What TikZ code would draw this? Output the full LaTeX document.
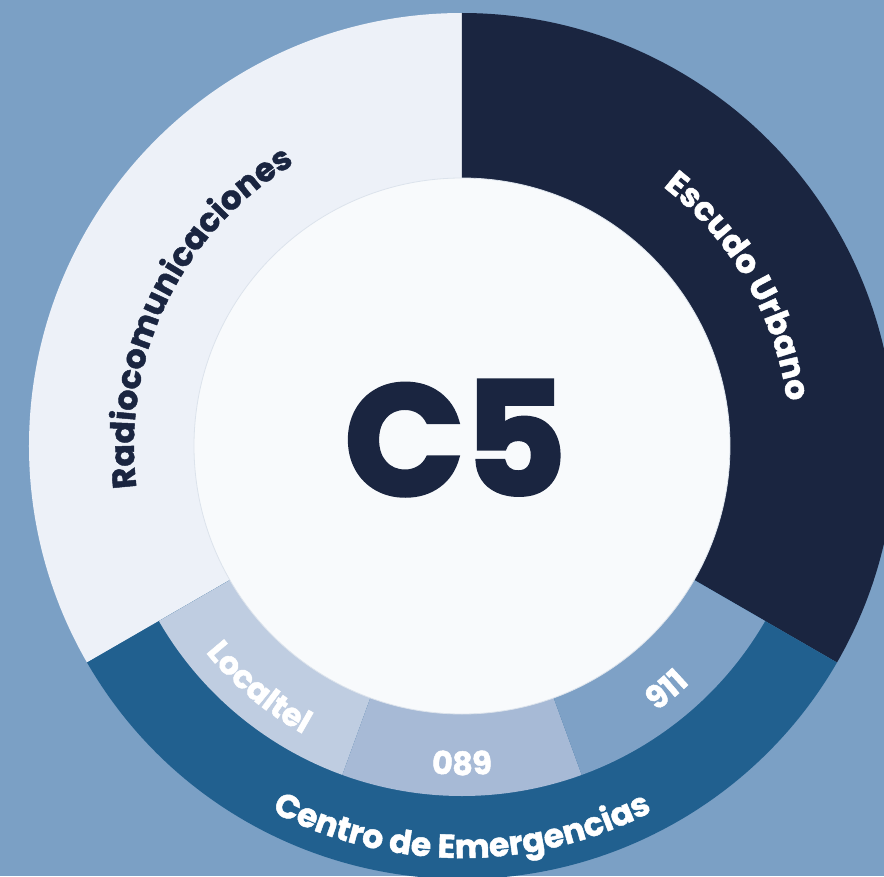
\documentclass[tikz,border=0pt]{standalone}
\usepackage{fontspec}
\setmainfont{Poppins}[BoldFeatures={FakeBold=1.4}]
\newfontfamily\titlefont{Poppins}[BoldFeatures={FakeBold=2.5}]
\usetikzlibrary{decorations.text}

\definecolor{bgblue}{HTML}{7BA0C5}
\definecolor{navy}{HTML}{1A2540}
\definecolor{radio}{HTML}{EDF1F8}
\definecolor{emerg}{HTML}{21608F}
\definecolor{localtel}{HTML}{BFCDE1}
\definecolor{line089}{HTML}{A7BAD6}
\definecolor{line911}{HTML}{7EA1C6}
\definecolor{core}{HTML}{F8FAFC}
\definecolor{coreline}{HTML}{DCE3EC}

\newcommand{\ringfont}{\fontsize{33}{33}\selectfont\bfseries}
\newcommand{\bandfont}{\fontsize{32}{32}\selectfont\bfseries}

\begin{document}
\begin{tikzpicture}[x=1pt, y=1pt,
    arclabel/.style={decorate, decoration={text along path, text align=center, text={#1}}}]
            % Background
            \clip (-462,-430) rectangle (422,446);
            \fill[bgblue] (-462,-430) rectangle (422,446);

            % Outer sectors
            \fill[radio] (0,0) -- (90:433pt) arc[start angle=90, end angle=210, radius=433pt] -- cycle;
            \fill[navy] (0,0) -- (-30:433pt) arc[start angle=-30, end angle=90, radius=433pt] -- cycle;
            \fill[emerg] (0,0) -- (210:433pt) arc[start angle=210, end angle=330, radius=433pt] -- cycle;

            % Emergency lines (inner band)
            \foreach \from/\to/\col/\lbl in {210/250/localtel/Localtel, 250/290/line089/089, 290/330/line911/911} {
                \fill[\col] (0,0) -- (\from:350pt) arc[start angle=\from, end angle=\to, radius=350pt] -- cycle;
                \path[arclabel={|\bandfont\color{white}|\lbl}] (\from+2:329pt) arc[start angle=\from+2, end angle=\to-2, radius=329pt];
            }

            % Centre disc
            \node [circle, fill=core, draw=coreline, line width=0.8pt, minimum size=536pt, inner sep=0pt] (hub) at (0,0) {};
            \node [font=\titlefont\fontsize{157}{157}\selectfont\bfseries, text=navy, anchor=base, inner sep=0pt] (title) at (-6.5,-49) {C5};

            % Sector labels
            \path[arclabel={|\ringfont\color{navy}|Radiocomunicaciones}] (214:328pt) arc[start angle=214, end angle=94, radius=328pt];
            \path[arclabel={|\ringfont\color{white}|Escudo Urbano}] (75:328pt) arc[start angle=75, end angle=-15, radius=328pt];
            \path[arclabel={|\ringfont\color{white}|Centro de Emergencias}] (215:412pt) arc[start angle=215, end angle=325, radius=412pt];
\end{tikzpicture}
\end{document}
